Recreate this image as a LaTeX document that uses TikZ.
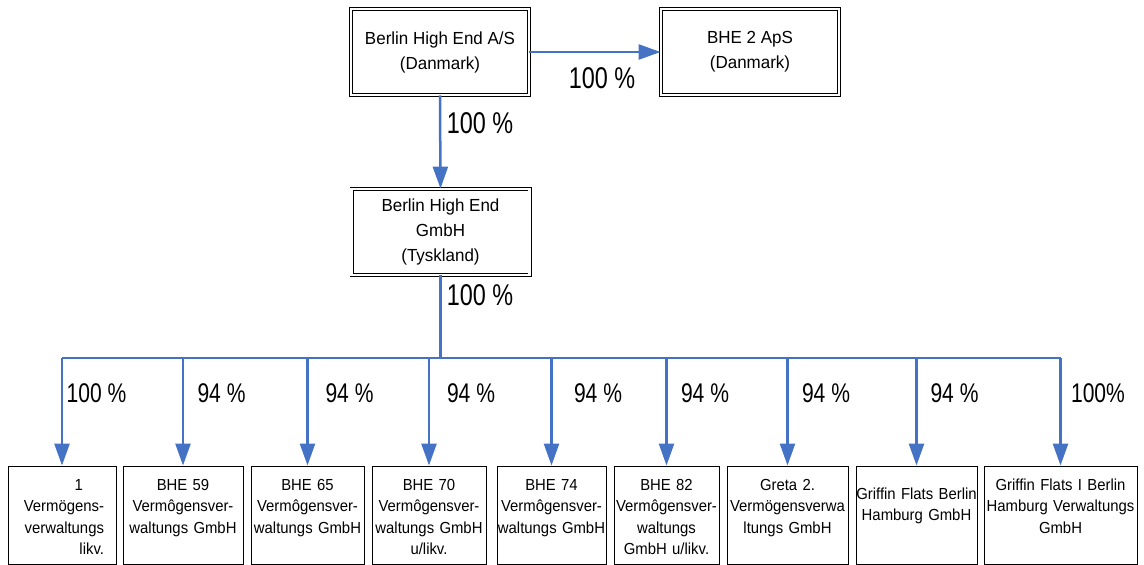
\documentclass[tikz,border=0pt]{standalone}
\usepackage{fontspec}
\setmainfont{Liberation Sans}[FakeStretch=0.93]
\newfontfamily\topfont{Liberation Sans}[FakeStretch=0.97]
\newfontfamily\pctfont{Liberation Sans}[FakeStretch=0.78]
\usetikzlibrary{arrows.meta}
\definecolor{lnblue}{HTML}{4472C4}
\begin{document}
\begin{tikzpicture}[x=1pt,y=-1pt,
  dbl/.style={draw=black, double, double distance=2.2pt, line width=0.9pt,
    minimum width=178pt, minimum height=86pt, inner sep=0pt, align=center,
    font=\topfont\fontsize{17.5}{25}\selectfont},
  sub/.style={draw=black, line width=0.9pt, inner xsep=-15pt, inner ysep=0pt,
    align=center, minimum height=98pt, text height=24pt, text depth=74pt,
    font=\fontsize{16}{21.5}\selectfont},
  conn/.style={draw=lnblue, line width=2.5pt},
  arr/.style={conn, -{Triangle[length=22pt,width=15pt]}},
  pct/.style={font=\pctfont\fontsize{30}{30}\selectfont, anchor=base, inner sep=0pt},
  pcts/.style={font=\pctfont\fontsize{27}{27}\selectfont, anchor=base, inner sep=0pt}]
\useasboundingbox (0,0) rectangle (1144,565);
% top level
\node[dbl] (A) at (440,52) {Berlin High End A/S\\(Danmark)};
\node[dbl] (B) at (750,52) {BHE 2 ApS\\(Danmark)};
\node[dbl] (C) at (440.5,232) {Berlin High End\\GmbH\\(Tyskland)};
% subsidiaries
\node[sub, align=right, inner xsep=1pt, minimum width=108pt, text width=84pt] (s1) at (62,515)
  {1\makebox[21pt]{}\\Vermögens-\\verwaltungs\\likv.};
\node[sub, minimum width=120pt, text width=150pt] (s2) at (183,515)
  {BHE 59\\Vermôgensver-\\waltungs GmbH};
\node[sub, minimum width=113pt, text width=143pt] (s3) at (307.5,515)
  {BHE 65\\Vermôgensver-\\waltungs GmbH};
\node[sub, minimum width=114pt, text width=144pt] (s4) at (429,515)
  {BHE 70\\Vermôgensver-\\waltungs GmbH\\u/likv.};
\node[sub, minimum width=109pt, text width=139pt] (s5) at (551.5,515)
  {BHE 74\\Vermôgensver-\\waltungs GmbH};
\node[sub, minimum width=105pt, text width=135pt] (s6) at (666.5,515)
  {BHE 82\\Vermôgensver-\\waltungs\\GmbH u/likv.};
\node[sub, minimum width=121pt, text width=151pt] (s7) at (787.5,515)
  {Greta 2.\\Vermögensverwa\\ltungs GmbH};
\node[sub, minimum width=121pt, text width=151pt, text height=33pt, text depth=65pt] (s8) at (916.5,515)
  {Griffin Flats Berlin\\Hamburg GmbH};
\node[sub, minimum width=153pt, text width=183pt] (s9) at (1060.5,515)
  {Griffin Flats I Berlin\\Hamburg Verwaltungs\\GmbH};
% connectors
\draw[arr] (A.east) -- (B.west);
\draw[arr] (A.south) -- (C.north);
\coordinate (bus) at (0,358);
\draw[conn] (C.south) -- (C.south |- bus);
\draw[conn] (s1.north |- bus) -- (s9.north |- bus);
\foreach \i in {1,...,9} {\draw[arr] (s\i.north |- bus) -- (s\i.north);}
% labels
\node[pct] (p1) at (602,88) {100 \%};
\node[pct] (p2) at (480,133) {100 \%};
\node[pct] (p3) at (480,305) {100 \%};
\node[pcts] (q1) at (96.5,402) {100 \%};
\node[pcts] (q2) at (221.5,402) {94 \%};
\node[pcts] (q3) at (349.5,402) {94 \%};
\node[pcts] (q4) at (471,402) {94 \%};
\node[pcts] (q5) at (598,402) {94 \%};
\node[pcts] (q6) at (705,402) {94 \%};
\node[pcts] (q7) at (826,402) {94 \%};
\node[pcts] (q8) at (954.5,402) {94 \%};
\node[pcts] (q9) at (1098,402) {100\%};
\end{tikzpicture}
\end{document}
